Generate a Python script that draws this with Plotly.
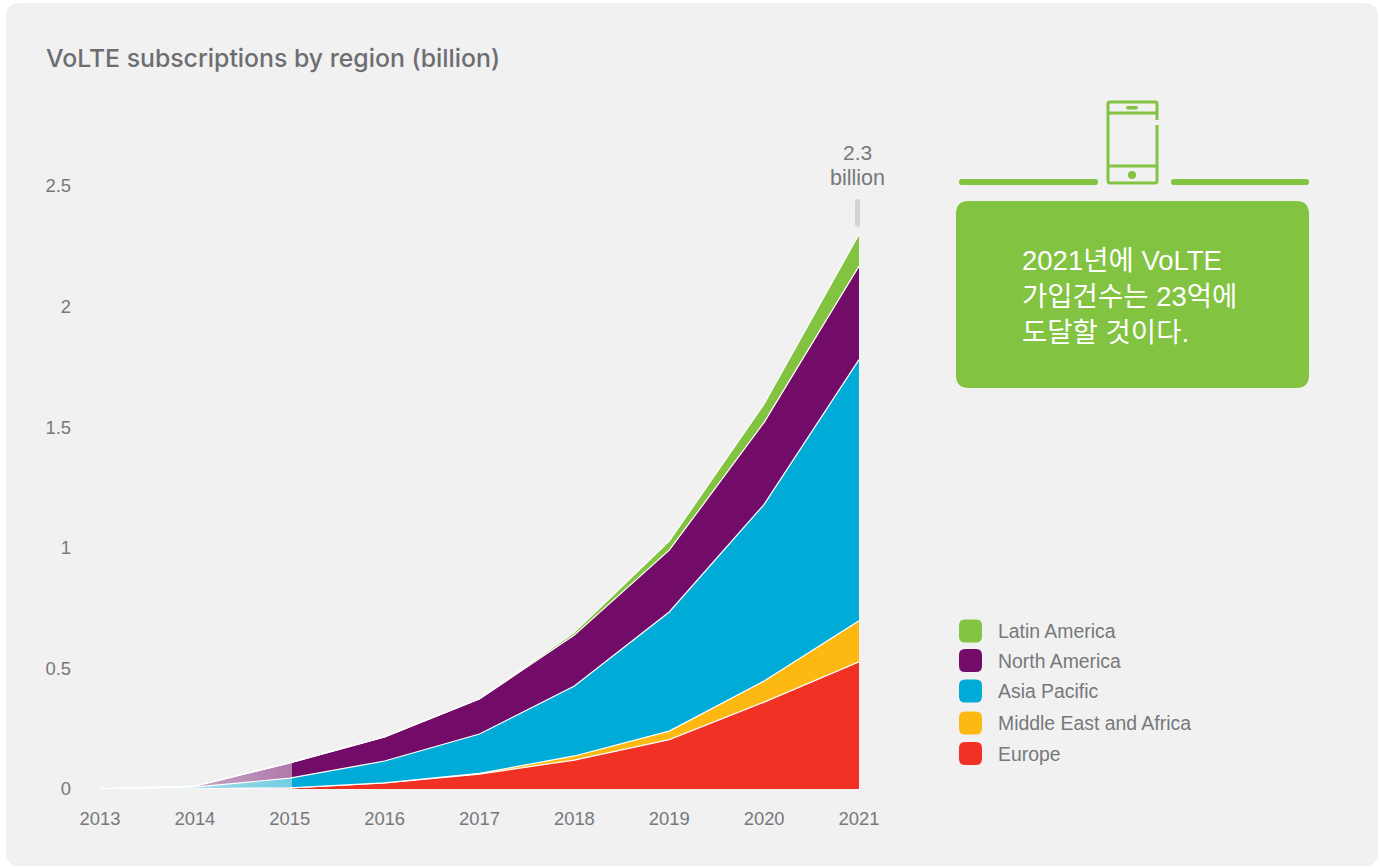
import plotly.graph_objects as go

W, H = 1380, 867

years = [2013, 2014, 2015, 2016, 2017, 2018, 2019, 2020, 2021]
year_labels = ["2013", "2014", "2015", "2016", "2017", "2018", "2019", "2020", "2021"]

# Regional VoLTE subscriptions in billions, stacked bottom to top
europe = [0, 0.0005, 0.005, 0.025, 0.062, 0.12, 0.205, 0.36, 0.527]
middle_east_africa = [0, 0, 0, 0, 0.003, 0.017, 0.035, 0.088, 0.17]
asia_pacific = [0.001, 0.0075, 0.04, 0.091, 0.163, 0.29, 0.494, 0.732, 1.083]
north_america = [0, 0.004, 0.063, 0.1, 0.145, 0.211, 0.256, 0.34, 0.388]
latin_america = [0, 0, 0, 0, 0.001, 0.012, 0.038, 0.076, 0.132]

series_names = ["Europe", "Middle East and Africa", "Asia Pacific", "North America", "Latin America"]
series_values = [europe, middle_east_africa, asia_pacific, north_america, latin_america]
series_rgb = ["241,49,35", "254,184,18", "0,172,215", "115,12,105", "130,195,65"]

y_ticks = [0, 0.5, 1, 1.5, 2, 2.5]
y_labels = ["0", "0.5", "1", "1.5", "2", "2.5"]

legend_names = ["Latin America", "North America", "Asia Pacific", "Middle East and Africa", "Europe"]
legend_rgb = ["130,195,65", "115,12,105", "0,172,215", "254,184,18", "241,49,35"]
legend_rows = [631, 660.5, 691, 723, 753.5]

GREY = "#77787B"
GREEN = "#82C341"
SANS = "Liberation Sans, Arial, sans-serif"
KOREAN = "Liberation Sans, Noto Sans CJK KR, sans-serif"


def px(x):
    return x / W


def py(y):
    return 1 - y / H


def rounded(x0, y0, x1, y1, r):
    """Closed rounded rectangle path, given in page pixels, as paper coordinates."""
    pts = [
        ("M", x0 + r, y0), ("L", x1 - r, y0), ("Q", x1, y0, x1, y0 + r),
        ("L", x1, y1 - r), ("Q", x1, y1, x1 - r, y1), ("L", x0 + r, y1),
        ("Q", x0, y1, x0, y1 - r), ("L", x0, y0 + r), ("Q", x0, y0, x0 + r, y0),
    ]
    parts = []
    for p in pts:
        coords = p[1:]
        text = []
        for i in range(0, len(coords), 2):
            text.append(f"{px(coords[i]):.5f},{py(coords[i + 1]):.5f}")
        parts.append(p[0] + " ".join(text))
    return " ".join(parts) + " Z"


def solid(path, color, layer="above"):
    return dict(type="path", xref="paper", yref="paper", path=path,
                fillcolor=color, line=dict(width=0), layer=layer)


fig = go.Figure()

# Early years fade out towards 2013, with a hard edge just after 2015
for name, values, rgb in zip(series_names, series_values, series_rgb):
    fig.add_trace(go.Scatter(
        x=years, y=values, name=name, mode="lines", stackgroup="regions",
        line=dict(color="white", width=1.2),
        fillgradient=dict(
            type="horizontal", start=2013, stop=2021,
            colorscale=[[0, f"rgba({rgb},0)"], [0.062, f"rgba({rgb},0.25)"],
                        [0.2534, f"rgba({rgb},0.52)"], [0.2535, f"rgb({rgb})"],
                        [1, f"rgb({rgb})"]],
        ),
        hoverinfo="skip", showlegend=False,
    ))

shapes = [solid(rounded(6, 3, 1378, 866, 14), "#F1F1F1", layer="below")]

# Value callout tick above the 2021 stack
shapes.append(solid(rounded(855, 199, 860, 227, 2.4), "#D1D3D4"))

# Divider bars either side of the phone icon
shapes.append(solid(rounded(959, 179, 1098, 185, 2.8), GREEN))
shapes.append(solid(rounded(1171, 179, 1309, 185, 2.8), GREEN))

# Phone icon outline, open on the right edge near the top
phone = (
    f"M{px(1157):.5f},{py(120):.5f} L{px(1157):.5f},{py(104):.5f} "
    f"Q{px(1157):.5f},{py(102):.5f} {px(1155):.5f},{py(102):.5f} "
    f"L{px(1110):.5f},{py(102):.5f} Q{px(1108):.5f},{py(102):.5f} {px(1108):.5f},{py(104):.5f} "
    f"L{px(1108):.5f},{py(181):.5f} Q{px(1108):.5f},{py(183):.5f} {px(1110):.5f},{py(183):.5f} "
    f"L{px(1155):.5f},{py(183):.5f} Q{px(1157):.5f},{py(183):.5f} {px(1157):.5f},{py(181):.5f} "
    f"L{px(1157):.5f},{py(125):.5f}"
)
shapes.append(dict(type="path", xref="paper", yref="paper", path=phone,
                   line=dict(color=GREEN, width=3), fillcolor="rgba(0,0,0,0)"))
for y in (113, 166):
    shapes.append(dict(type="line", xref="paper", yref="paper",
                       x0=px(1108), x1=px(1157), y0=py(y), y1=py(y),
                       line=dict(color=GREEN, width=3)))
shapes.append(solid(rounded(1126, 106, 1138, 109.5, 1.7), GREEN))
shapes.append(dict(type="circle", xref="paper", yref="paper",
                   x0=px(1128), x1=px(1136), y0=py(171), y1=py(179),
                   fillcolor=GREEN, line=dict(width=0)))

# Message panel
shapes.append(solid(rounded(956, 201, 1309, 388, 13), GREEN))

annotations = [
    dict(text="VoLTE subscriptions by region (billion)", x=px(43.5), y=py(58),
         xanchor="left", font=dict(family="Inter, sans-serif", size=24.8, color="#6D6E71", weight=500)),
    dict(text="2.3", x=px(857.5), y=py(152), font=dict(family=SANS, size=21, color=GREY)),
    dict(text="billion", x=px(857.5), y=py(178.5), font=dict(family=SANS, size=21.5, color=GREY)),
]
for text, y in (("2021년에 VoLTE", 260), ("가입건수는 23억에", 296.5), ("도달할 것이다.", 332.5)):
    annotations.append(dict(text=text, x=px(1020), y=py(y), xanchor="left",
                            font=dict(family=KOREAN, size=27.5, color="white")))

# Legend keys with rounded swatches
for name, rgb, y in zip(legend_names, legend_rgb, legend_rows):
    shapes.append(solid(rounded(959, y - 11.5, 982, y + 11.5, 6), f"rgb({rgb})"))
    annotations.append(dict(text=name, x=px(996), y=py(y), xanchor="left",
                            font=dict(family=SANS, size=19.4, color=GREY)))

for a in annotations:
    a.update(xref="paper", yref="paper", showarrow=False, yanchor="middle")

fig.update_layout(
    width=W, height=H, autosize=False,
    margin=dict(l=0, r=0, t=0, b=0),
    paper_bgcolor="white", plot_bgcolor="rgba(0,0,0,0)",
    shapes=shapes, annotations=annotations, showlegend=False,
    xaxis=dict(
        domain=[px(100), px(859)], range=[2013, 2021], automargin=False,
        tickmode="array", tickvals=years, ticktext=year_labels,
        showgrid=False, zeroline=False, showline=False,
        ticks="outside", ticklen=13, tickcolor="rgba(0,0,0,0)",
        tickfont=dict(family=SANS, size=18.4, color=GREY),
    ),
    yaxis=dict(
        domain=[py(789), py(186)], range=[0, 2.5], automargin=False,
        anchor="free", position=px(71),
        tickmode="array", tickvals=y_ticks, ticktext=y_labels,
        showgrid=False, zeroline=False, showline=False,
        ticks="", tickfont=dict(family=SANS, size=18.4, color=GREY),
    ),
)

fig.write_html("out.html", config={"displayModeBar": False})
